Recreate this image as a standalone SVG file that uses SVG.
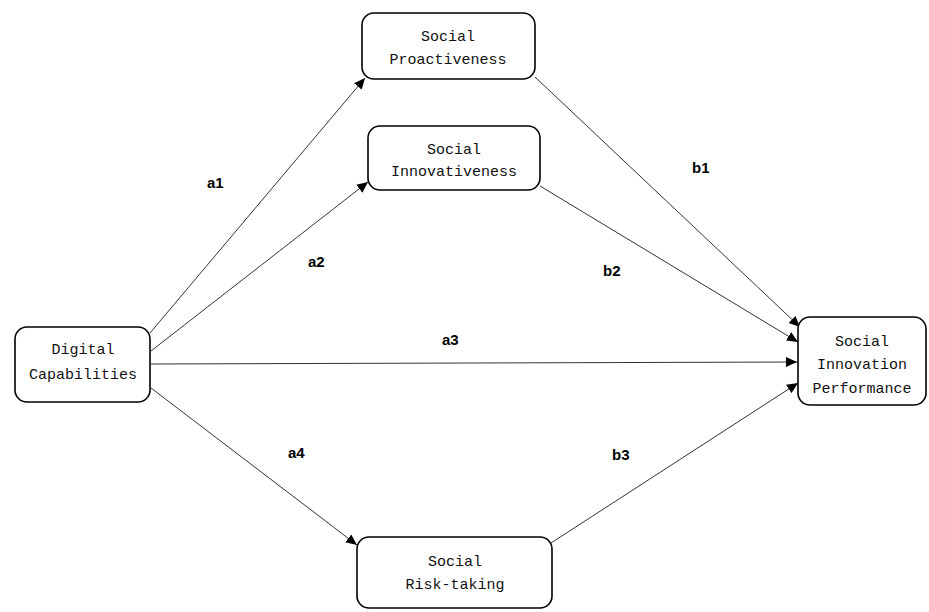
<svg xmlns="http://www.w3.org/2000/svg" width="929" height="612" viewBox="0 0 929 612">
<style>
.box{fill:#fff;stroke:#000;stroke-width:1.6}
.nt{font-family:"Liberation Mono","DejaVu Sans Mono",monospace;font-size:15px;fill:#111;text-anchor:middle}
.lb{font-family:"Liberation Sans",Arial,sans-serif;font-weight:bold;font-size:15px;fill:#000}
.cn{stroke:#333;stroke-width:1;fill:none;marker-end:url(#ah)}
</style>
<defs>
<marker id="ah" viewBox="0 0 10 10" refX="10" refY="5" markerWidth="11" markerHeight="11" markerUnits="userSpaceOnUse" orient="auto">
<path d="M0,0.5 L10,5 L0,9.5 Z" fill="#000"/>
</marker>
</defs>
<rect width="929" height="612" fill="#fff"/>
<g id="connectors">
<line class="cn" x1="150" y1="333" x2="365" y2="78"/>
<line class="cn" x1="151" y1="351" x2="368" y2="182"/>
<line class="cn" x1="151" y1="364" x2="797" y2="362"/>
<line class="cn" x1="151" y1="388" x2="357" y2="545"/>
<line class="cn" x1="535" y1="77" x2="800" y2="327"/>
<line class="cn" x1="540" y1="186" x2="798" y2="342"/>
<line class="cn" x1="551" y1="543" x2="798" y2="383"/>
</g>
<g id="labels">
<text class="lb" x="207" y="188">a1</text>
<text class="lb" x="308" y="267">a2</text>
<text class="lb" x="442" y="345">a3</text>
<text class="lb" x="288" y="458">a4</text>
<text class="lb" x="692" y="173">b1</text>
<text class="lb" x="603" y="276">b2</text>
<text class="lb" x="612" y="460">b3</text>
</g>
<g id="digital-capabilities">
<rect class="box" x="15" y="327" width="135" height="75" rx="12"/>
<text class="nt" x="83" y="354">Digital</text>
<text class="nt" x="83" y="379">Capabilities</text>
</g>
<g id="social-proactiveness">
<rect class="box" x="362" y="13" width="173" height="66" rx="12"/>
<text class="nt" x="448" y="41">Social</text>
<text class="nt" x="448" y="64">Proactiveness</text>
</g>
<g id="social-innovativeness">
<rect class="box" x="368" y="126" width="172" height="64" rx="12"/>
<text class="nt" x="454" y="154">Social</text>
<text class="nt" x="454" y="176">Innovativeness</text>
</g>
<g id="social-risk-taking">
<rect class="box" x="357" y="537" width="195" height="71" rx="12"/>
<text class="nt" x="455" y="566">Social</text>
<text class="nt" x="455" y="589">Risk-taking</text>
</g>
<g id="social-innovation-performance">
<rect class="box" x="798" y="317" width="128" height="88" rx="12"/>
<text class="nt" x="862" y="346">Social</text>
<text class="nt" x="862" y="369">Innovation</text>
<text class="nt" x="862" y="393">Performance</text>
</g>
</svg>
